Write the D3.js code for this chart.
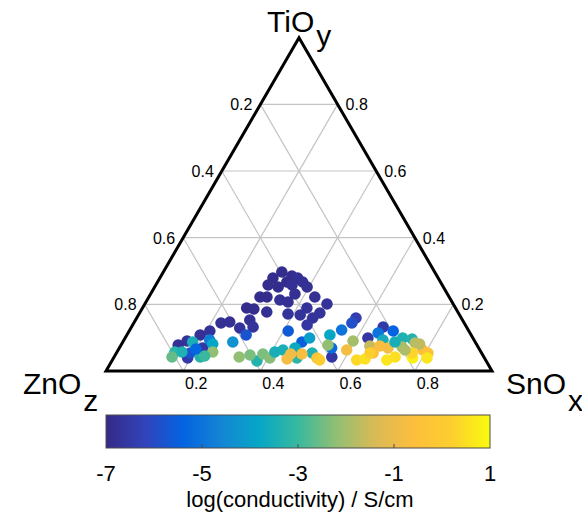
<!DOCTYPE html>
<html>
<head>
<meta charset="utf-8">
<script src="https://cdn.jsdelivr.net/npm/d3@7"></script>
<style>
    body { margin: 0; background: #fff; }
    text { font-family: "Liberation Sans", Arial, Helvetica, sans-serif; fill: #000; }
</style>
</head>
<body>
<div id="vis"></div>
<script>
const width = 582;
const height = 517;

// ternary fractions: SnO (x), TiO (y); ZnO (z) = 1 - x - y
const sno = [
    0.307, 0.339, 0.357, 0.293, 0.335, 0.376, 0.291, 0.320, 0.353, 0.395,
    0.374, 0.288, 0.306, 0.344, 0.368, 0.430, 0.472, 0.426, 0.270, 0.290,
    0.328, 0.386, 0.419, 0.467, 0.456, 0.296, 0.226, 0.247, 0.282, 0.315,
    0.452, 0.209, 0.190, 0.165, 0.148, 0.216, 0.192, 0.564, 0.568, 0.652,
    0.629,
    0.309, 0.412, 0.464, 0.191, 0.222, 0.565, 0.549, 0.684, 0.648, 0.550,
    0.285, 0.236, 0.181, 0.150, 0.150, 0.223, 0.376, 0.427, 0.455, 0.478,
    0.526, 0.507, 0.475, 0.671, 0.719, 0.745,
    0.248, 0.324, 0.381, 0.405, 0.595, 0.646, 0.731, 0.759, 0.536,
    0.451, 0.482, 0.592, 0.665, 0.696, 0.789, 0.807, 0.527,
    0.633, 0.653, 0.657, 0.711, 0.728, 0.775, 0.812, 0.766, 0.537,
    0.168, 0.233, 0.200, 0.409, 0.349, 0.453, 0.743, 0.705, 0.772, 0.672
];
const tio = [
    0.297, 0.285, 0.279, 0.279, 0.267, 0.267, 0.258, 0.252, 0.258, 0.252,
    0.231, 0.222, 0.222, 0.213, 0.207, 0.222, 0.201, 0.189, 0.189, 0.186,
    0.177, 0.171, 0.168, 0.174, 0.159, 0.153, 0.144, 0.147, 0.129, 0.132,
    0.138, 0.120, 0.108, 0.090, 0.078, 0.069, 0.039, 0.042, 0.159, 0.132,
    0.099,
    0.108, 0.120, 0.087, 0.054, 0.093, 0.144, 0.123, 0.120, 0.114, 0.069,
    0.087, 0.081, 0.087, 0.057, 0.042, 0.042, 0.030, 0.063, 0.069, 0.099,
    0.108, 0.054, 0.039, 0.093, 0.099, 0.096,
    0.057, 0.042, 0.051, 0.039, 0.090, 0.075, 0.072, 0.084, 0.078,
    0.036, 0.051, 0.063, 0.054, 0.069, 0.063, 0.054, 0.039,
    0.033, 0.036, 0.054, 0.033, 0.042, 0.039, 0.039, 0.054, 0.033,
    0.057, 0.045, 0.066, 0.057, 0.048, 0.051, 0.063, 0.087, 0.081, 0.075
];
const logCond = [
    -6.9, -6.9, -6.8, -6.9, -6.9, -6.8, -6.9, -6.9, -6.8, -6.8,
    -6.8, -6.9, -6.9, -6.8, -6.8, -6.8, -6.7, -6.7, -6.9, -6.9,
    -6.8, -6.7, -6.7, -6.7, -6.7, -6.8, -6.8, -6.8, -6.7, -6.7,
    -6.6, -6.7, -6.8, -6.7, -6.8, -6.6, -6.5, -6.6, -6.4, -6.5,
    -6.6,
    -5.8, -5.6, -5.5, -5.8, -4.8, -5.9, -5.0, -5.4, -5.0, -5.2,
    -4.3, -3.8, -3.5, -3.2, -2.6, -3.3, -3.3, -3.5, -3.7, -4.0,
    -3.8, -3.4, -3.2, -3.6, -3.4, -3.3,
    -2.2, -2.2, -2.4, -2.3, -2.0, -1.6, -2.0, -1.8, -2.2,
    -0.8, -0.7, -0.8, -0.6, -0.8, -0.6, -0.4, -0.4,
    0.4, 0.5, 0.2, 0.6, 0.5, 0.8, 0.6, 0.3, 0.1,
    -3.4, -3.0, -5.3, -3.5, -2.4, -0.9, -1.9, -3.5, -1.7, -0.7
];

const gridValues = [0.2, 0.4, 0.6, 0.8];
const colorbarTicks = [-7, -5, -3, -1, 1];

// parula colormap stops
const parula = ["#352a87", "#3243ba", "#0363e1", "#1485d4", "#06a7c6",
    "#38b99e", "#92bf73", "#d9ba56", "#fdbe3d", "#fcce2e", "#f9fb0e"];

const svg = d3.select("#vis").append("svg")
    .attr("width", width)
    .attr("height", height);

// horizontal position = SnO + TiO/2, vertical = TiO
let hScale = d3.scaleLinear().domain([0, 1]).range([106, 492]);
let vScale = d3.scaleLinear().domain([0, 1]).range([371, 37.7]);

function px(x, y) { return hScale(x + y / 2); }
function py(x, y) { return vScale(y); }

let colorDomain = parula.map((c, i) => -7 + 8 * i / (parula.length - 1));
let color = d3.scaleLinear().domain(colorDomain).range(parula).clamp(true);

// grid
let gridLines = [];
gridValues.forEach(v => {
    gridLines.push([[0, v], [1 - v, v]]);        // TiO constant
    gridLines.push([[v, 0], [v, 1 - v]]);        // SnO constant
    gridLines.push([[1 - v, 0], [0, 1 - v]]);    // ZnO constant
});

svg.append("g").selectAll("line")
    .data(gridLines)
    .enter().append("line")
    .attr("x1", d => px(d[0][0], d[0][1]))
    .attr("y1", d => py(d[0][0], d[0][1]))
    .attr("x2", d => px(d[1][0], d[1][1]))
    .attr("y2", d => py(d[1][0], d[1][1]))
    .attr("stroke", "#c4c4c4")
    .attr("stroke-width", 1.2);

// points
let points = sno.map((x, i) => ({ x: x, y: tio[i], c: logCond[i] }));

svg.append("g").selectAll("circle")
    .data(points)
    .enter().append("circle")
    .attr("cx", d => px(d.x, d.y))
    .attr("cy", d => py(d.x, d.y))
    .attr("r", 5.8)
    .attr("fill", d => color(d.c));

// outline
let corners = [[0, 0], [1, 0], [0, 1]];
svg.append("path")
    .attr("d", "M" + corners.map(c => px(c[0], c[1]) + "," + py(c[0], c[1])).join("L") + "Z")
    .attr("fill", "none")
    .attr("stroke", "#000")
    .attr("stroke-width", 3)
    .attr("stroke-linejoin", "miter");

// axis labels
let tickFont = "16px";
svg.append("g").selectAll("text")
    .data(gridValues)
    .enter().append("text")
    .attr("x", d => px(d, 0) + 13)
    .attr("y", d => py(d, 0) + 18)
    .attr("text-anchor", "middle")
    .style("font-size", tickFont)
    .text(d => d);

svg.append("g").selectAll("text")
    .data(gridValues)
    .enter().append("text")
    .attr("x", d => px(0, 1 - d) - 8)
    .attr("y", d => py(0, 1 - d) + 6)
    .attr("text-anchor", "end")
    .style("font-size", tickFont)
    .text(d => d);

svg.append("g").selectAll("text")
    .data(gridValues)
    .enter().append("text")
    .attr("x", d => px(1 - d, d) + 8)
    .attr("y", d => py(1 - d, d) + 6)
    .attr("text-anchor", "start")
    .style("font-size", tickFont)
    .text(d => d);

// corner labels
function cornerLabel(x, y, main, sub, dy) {
    let t = svg.append("text")
        .attr("x", x)
        .attr("y", y)
        .style("font-size", "30px");
    t.append("tspan").text(main);
    t.append("tspan").attr("dx", 2).attr("dy", dy).text(sub);
}
cornerLabel(267, 32, "TiO", "y", 14);
cornerLabel(23, 394, "ZnO", "z", 17);
cornerLabel(506, 394, "SnO", "x", 17);

// colorbar
let cbX = d3.scaleLinear().domain([-7, 1]).range([106, 490]);
let cbTop = 415, cbBottom = 448;

let grad = svg.append("defs").append("linearGradient")
    .attr("id", "parula")
    .attr("x1", "0%").attr("x2", "100%")
    .attr("y1", "0%").attr("y2", "0%");
grad.selectAll("stop")
    .data(parula)
    .enter().append("stop")
    .attr("offset", (d, i) => (100 * i / (parula.length - 1)) + "%")
    .attr("stop-color", d => d);

svg.append("rect")
    .attr("x", cbX(-7))
    .attr("y", cbTop)
    .attr("width", cbX(1) - cbX(-7))
    .attr("height", cbBottom - cbTop)
    .attr("fill", "url(#parula)")
    .attr("stroke", "#4d4d4d")
    .attr("stroke-width", 1);

svg.append("g").selectAll("line")
    .data(colorbarTicks.slice(1, -1))
    .enter().append("line")
    .attr("x1", d => cbX(d))
    .attr("x2", d => cbX(d))
    .attr("y1", cbBottom)
    .attr("y2", cbBottom - 4)
    .attr("stroke", "#4d4d4d")
    .attr("stroke-width", 1);

svg.append("g").selectAll("text")
    .data(colorbarTicks)
    .enter().append("text")
    .attr("x", d => cbX(d))
    .attr("y", 481)
    .attr("text-anchor", "middle")
    .style("font-size", "22px")
    .text(d => d < 0 ? "-" + Math.abs(d) : d);

svg.append("text")
    .attr("x", 300)
    .attr("y", 507)
    .attr("text-anchor", "middle")
    .style("font-size", "22px")
    .text("log(conductivity) / S/cm");
</script>
</body>
</html>
